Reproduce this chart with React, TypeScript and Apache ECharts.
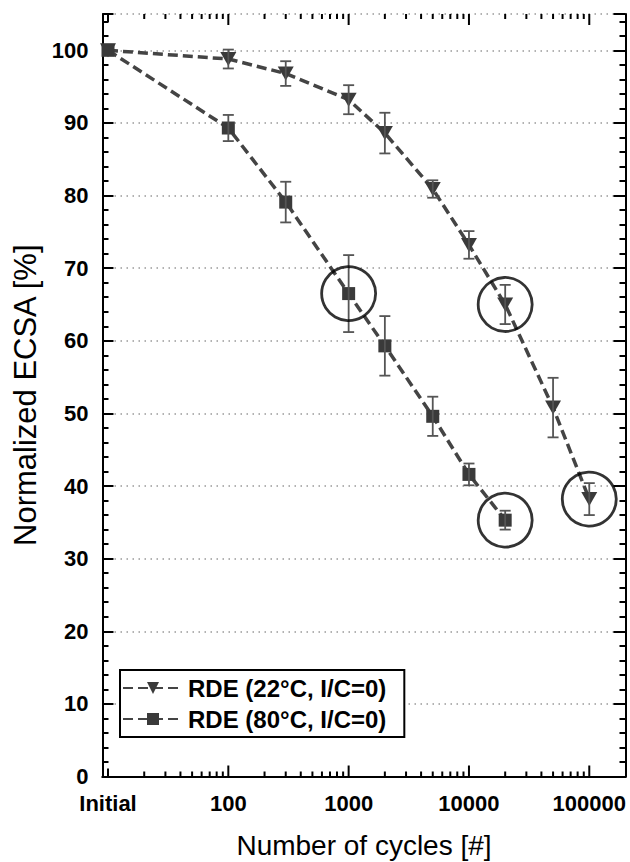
import React, { useEffect, useRef } from 'react';
import * as echarts from 'echarts';

const NAME_22 = 'RDE (22°C, I/C=0)';
const NAME_80 = 'RDE (80°C, I/C=0)';

const cycles22 = [10, 100, 300, 1000, 2000, 5000, 10000, 20000, 50000, 100000];
const ecsa22 = [100, 98.8, 96.8, 93.2, 88.6, 80.9, 73.2, 65.0, 50.8, 38.2];
const err22 = [0, 1.3, 1.7, 2.0, 2.8, 1.2, 1.9, 2.7, 4.1, 2.2];

const cycles80 = [10, 100, 300, 1000, 2000, 5000, 10000, 20000];
const ecsa80 = [100, 89.3, 79.1, 66.5, 59.3, 49.6, 41.6, 35.3];
const err80 = [0, 1.8, 2.8, 5.3, 4.1, 2.7, 1.5, 1.3];

const highlightCycles = [1000, 20000, 20000, 100000];
const highlightValues = [66.5, 65.0, 35.3, 38.2];

const xTickValues = [10, 100, 1000, 10000, 100000];
const xTickLabels = ['Initial', '100', '1000', '10000', '100000'];

const X_MIN = 9;
const X_MAX = 200000;
const Y_MIN = 0;
const Y_MAX = 105;

const FONT = "'Liberation Sans', Arial, Helvetica, sans-serif";

export default function App() {
  const ref = useRef<HTMLDivElement>(null);

  useEffect(() => {
    if (!ref.current) return;
    const chart = echarts.init(ref.current, undefined, { renderer: 'svg' });

    const tickData: number[][] = [];
    xTickValues.forEach((d, i) => {
      tickData.push([d, 0, i === 0 ? 1 : 2]);
      for (let m = 2; m <= 9; m++) {
        const v = m * d;
        if (v < X_MAX) tickData.push([v, 0, 0]);
      }
    });

    const errData = (xs: number[], ys: number[], es: number[]) =>
      xs.map((x, i) => [x, ys[i], es[i]]).filter((d) => d[2] > 0);

    const errRender = (params: any, api: any) => {
      const x = api.value(0);
      const y = api.value(1);
      const e = api.value(2);
      const top = api.coord([x, y + e]);
      const bot = api.coord([x, y - e]);
      const hw = 5.5;
      const st = { stroke: '#555', lineWidth: 1.8 };
      return {
        type: 'group',
        children: [
          { type: 'line', shape: { x1: top[0], y1: top[1], x2: bot[0], y2: bot[1] }, style: st },
          { type: 'line', shape: { x1: top[0] - hw, y1: top[1], x2: top[0] + hw, y2: top[1] }, style: st },
          { type: 'line', shape: { x1: bot[0] - hw, y1: bot[1], x2: bot[0] + hw, y2: bot[1] }, style: st },
        ],
      };
    };

    const tickRender = (params: any, api: any) => {
      const v = api.value(0);
      const kind = api.value(2);
      const len = kind === 2 ? 11 : kind === 1 ? 8 : 5;
      const b = api.coord([v, Y_MIN]);
      const t = api.coord([v, Y_MAX]);
      const st = { stroke: '#000', lineWidth: 2 };
      return {
        type: 'group',
        children: [
          { type: 'line', shape: { x1: b[0], y1: b[1], x2: b[0], y2: b[1] - len }, style: st },
          { type: 'line', shape: { x1: t[0], y1: t[1], x2: t[0], y2: t[1] + len }, style: st },
        ],
      };
    };

    const labelFor = (v: number) => {
      for (let i = 0; i < xTickValues.length; i++) {
        if (Math.abs(Math.log10(v) - Math.log10(xTickValues[i])) < 1e-6) return xTickLabels[i];
      }
      return '';
    };

    const lineStyle = { color: '#444', width: 3.5, type: [10, 5] as any };

    const option: any = {
      animation: false,
      backgroundColor: '#fff',
      grid: {
        left: 102.5,
        right: 4.5,
        top: 14,
        bottom: 85.5,
        containLabel: false,
        outerBoundsMode: 'none',
      },
      legend: {
        data: [NAME_22, NAME_80],
        orient: 'vertical',
        left: 120,
        top: 670,
        backgroundColor: '#fff',
        borderColor: '#000',
        borderWidth: 2,
        borderRadius: 0,
        padding: [6, 18, 6, 2],
        itemGap: 7,
        itemWidth: 60,
        itemHeight: 15,
        selectedMode: false,
        textStyle: { fontSize: 24, fontWeight: 'bold', color: '#000', fontFamily: FONT },
      },
      xAxis: [
        {
          type: 'log',
          logBase: 10,
          min: X_MIN,
          max: X_MAX,
          position: 'bottom',
          name: 'Number of cycles [#]',
          nameLocation: 'middle',
          nameGap: 55,
          nameTextStyle: { fontSize: 28, color: '#000', fontFamily: FONT },
          axisLine: { show: true, lineStyle: { color: '#000', width: 2 } },
          axisTick: { show: false },
          minorTick: { show: false },
          splitLine: { show: false },
          minorSplitLine: { show: false },
          axisLabel: {
            margin: 16,
            color: '#000',
            fontSize: 22,
            fontWeight: 'bold',
            fontFamily: FONT,
            formatter: (v: number) => labelFor(v),
          },
        },
        {
          type: 'log',
          logBase: 10,
          min: X_MIN,
          max: X_MAX,
          position: 'top',
          axisLine: { show: true, lineStyle: { color: '#000', width: 2 } },
          axisTick: { show: false },
          splitLine: { show: false },
          axisLabel: { show: false },
        },
      ],
      yAxis: [
        {
          type: 'value',
          min: Y_MIN,
          max: Y_MAX,
          interval: 10,
          position: 'left',
          name: 'Normalized ECSA [%]',
          nameLocation: 'middle',
          nameRotate: 90,
          nameGap: 59,
          nameTextStyle: { fontSize: 31, color: '#000', fontFamily: FONT },
          axisLine: { show: true, lineStyle: { color: '#000', width: 2 } },
          axisTick: { show: true, inside: true, length: 11, lineStyle: { color: '#000', width: 2 } },
          minorTick: { show: true, splitNumber: 5, length: 6, lineStyle: { color: '#000', width: 2 } },
          splitLine: { show: true, lineStyle: { color: '#999', width: 1.5, type: [1.5, 4.5] } },
          axisLabel: {
            margin: 14,
            color: '#000',
            fontSize: 22,
            fontWeight: 'bold',
            fontFamily: FONT,
            showMaxLabel: false,
            formatter: (v: number) => (v > 100 ? '' : String(v)),
          },
        },
        {
          type: 'value',
          min: Y_MIN,
          max: Y_MAX,
          interval: 10,
          position: 'right',
          axisLine: { show: true, lineStyle: { color: '#000', width: 2 } },
          axisTick: { show: true, inside: true, length: 12, lineStyle: { color: '#000', width: 2 } },
          minorTick: { show: true, splitNumber: 5, length: 6, lineStyle: { color: '#000', width: 2 } },
          splitLine: { show: false },
          axisLabel: { show: false },
        },
      ],
      series: [
        {
          name: 'xticks',
          type: 'custom',
          xAxisIndex: 0,
          yAxisIndex: 0,
          silent: true,
          renderItem: tickRender,
          encode: { x: 0, y: 1 },
          data: tickData,
          z: 5,
        },
        {
          name: NAME_22,
          type: 'line',
          data: cycles22.map((x, i) => [x, ecsa22[i]]),
          symbol: 'triangle',
          symbolRotate: 180,
          symbolSize: [16, 14],
          lineStyle,
          itemStyle: { color: '#3a3a3a' },
          z: 3,
        },
        {
          name: NAME_80,
          type: 'line',
          data: cycles80.map((x, i) => [x, ecsa80[i]]),
          symbol: 'rect',
          symbolSize: 13,
          lineStyle,
          itemStyle: { color: '#3a3a3a' },
          z: 3,
        },
        {
          name: 'err22',
          type: 'custom',
          silent: true,
          renderItem: errRender,
          encode: { x: 0, y: 1 },
          data: errData(cycles22, ecsa22, err22),
          z: 4,
        },
        {
          name: 'err80',
          type: 'custom',
          silent: true,
          renderItem: errRender,
          encode: { x: 0, y: 1 },
          data: errData(cycles80, ecsa80, err80),
          z: 4,
        },
        {
          name: 'highlight',
          type: 'scatter',
          silent: true,
          symbol: 'circle',
          symbolSize: 54,
          itemStyle: { color: 'rgba(0,0,0,0)', borderColor: '#000', borderWidth: 2.8 },
          data: highlightCycles.map((x, i) => [x, highlightValues[i]]),
          z: 6,
        },
      ],
    };

    chart.setOption(option);
    return () => chart.dispose();
  }, []);

  return (
    <div
      ref={ref}
      style={{ position: 'absolute', left: 0, top: 0, width: 630, height: 862 }}
    />
  );
}
